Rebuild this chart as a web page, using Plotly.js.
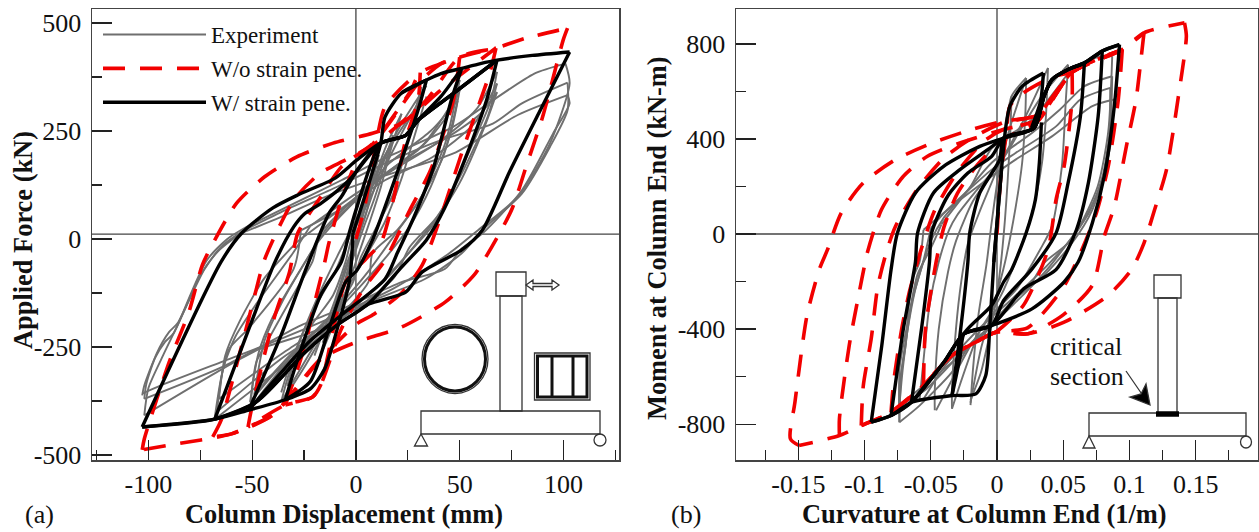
<!DOCTYPE html>
<html><head><meta charset="utf-8">
<script src="https://cdn.plot.ly/plotly-3.0.1.min.js"></script>
<style>html,body{margin:0;padding:0;background:#fff}#c{width:1259px;height:532px}</style>
</head><body><div id="c"></div>
<script>
// ---------- Panel (a): displacement (mm) vs force (kN). null separates branches.
const expAX=[-103,-102,-97,-92,-88,-75,-66,-55.5,null,
-55.5,-36,-11,12,47,78,102,null, 102,103,95,80,61,51,43,22,-3,-26.5,-63,-102,null,
-102,-101,-96,-90,-86,-73,-64,-54,null,
-54,-34,-9,14,41,66,80,102,null, 102,102,93.5,80,61,51,33.5,6.4,-21,-46,-67,-102,null,
-102,-100,-93,-86,-72,-62,-52,null,
-52,-30,-7,12,47,66,86,101,null, 101,103,93.5,78,59,45,18,-13,-44,-65,-94,-103,null,
-68,-65,-61,-52,-30,-26.5,null, -26.5,-5,14,37,57,68,null,
68,63.5,51,39,26,18,-9,-36,-67,null,
-67,-64,-58,-48,-30,-22,null, -22,0,18,40,58,68,null,
68,65,53,42,30,16,-7,-34,-66,null,
-66,-63,-56,-44,-28,null, -28,-3,20,44,60,68,null,
68,62,50,36,24,10,-12,-38,-68,null,
-51,-48,-42,-28.5,-21,-17,-1.4,12,31.5,47,50,null,
50,43,31.5,20,8,6,-11,-28.5,-51,null,
-51,-47,-40,-26,-18,-3,14,34,46,50,null,
50,46,36,26,14,2,-14,-32,-49,null,
-49,-44,-36,-24,-14,2,16,36,49,null,
49,42,30,18,6,-10,-30,-50,null,
-36,-32,-22.6,-11,-5,-1.4,6.4,14,22,29.6,31.5,null,
31.5,24,18,10,2.5,-1.4,-11,-21,-36,null,
-36,-31,-21,-10,-3,4,12,20,27,34,null,
34,28,22,14,6,-3,-14,-24,-34,null,
-33,-28,-18,-9,-2,6,13,24,32,null,
-20,-15,-10,-5,0,5,10,15,22,null, 22,17,12,7,2,-3,-8,-14,-20,null,
-16,-12,-8,-3,2,7,12,18,null, 18,14,9,4,0,-5,-10,-16,null,
-11,-8,-5,-1,3,7,11,null, 11,8,5,1,-2,-6,-11];
const expAY=[-362,-339,-277,-238,-219,-84,-26,13,null,
13,51,105,144,198,287,333,null, 333,314,244,113,13,-22,-69,-100,-154,-200,-293,-370,null,
-370,-335,-265,-215,-195,-70,-14,20,null,
20,67,121,175,229,267,314,362,null, 362,298,213,105,21,-33,-92,-146,-215,-254,-308,-408,null,
-408,-345,-270,-200,-50,0,30,null,
30,82,136,183,260,321,383,406,null, 406,360,221,98,21,-33,-115,-184,-246,-285,-339,-358,null,
-412,-323,-254,-208,-69,20,null, 20,75,136,190,267,360,null,
360,283,152,51,-18,-92,-192,-277,-400,null,
-400,-300,-225,-150,-30,30,null, 30,105,160,225,300,387,null,
387,320,185,70,-5,-85,-175,-260,-370,null,
-370,-270,-190,-90,-5,null, -5,85,170,235,290,340,null,
340,260,130,25,-40,-110,-205,-305,-417,null,
-396,-285,-231,-115,-53,13,90,144,213,322,368,null,
368,221,98,21,-33,-100,-192,-254,-377,null,
-377,-265,-180,-65,-5,75,150,225,300,345,null,
345,250,120,30,-45,-110,-190,-270,-360,null,
-360,-235,-150,-50,25,100,175,250,320,null,
320,190,85,5,-75,-165,-265,-385,null,
-377,-308,-208,-130,-53,13,90,167,244,314,352,null,
352,206,105,28,-41,-100,-177,-254,-377,null,
-355,-280,-170,-75,5,75,170,250,305,355,null,
330,235,140,40,-30,-105,-205,-290,-365,null,
-340,-250,-130,-40,25,100,185,270,325,null,
-270,-205,-140,-65,0,80,155,220,290,null, 290,210,120,45,-25,-95,-165,-235,-300,null,
-240,-180,-120,-45,20,90,160,240,null, 240,170,95,30,-25,-95,-165,-255,null,
-190,-145,-90,-20,50,120,195,null, 195,130,60,0,-50,-110,-190];

const redAX=[0,4,10,14,26,31,null,
31,30,24,18,12,5,-5,-17,-21,-34,null,
-34,-24.5,-19,-15,-13,-7,1,9,26,31,41,50,null,
50,47,36,26,14,3,-7,-17,-21,-34,-52,null,
-52,-50.6,-40,-32,-28,-17,-7,9,30,41,50,67.5,null,
67.5,64.5,51,41.5,32,22,8,0.5,-17,-40,-52,-60,-69,null,
-69,-65,-55.5,-48,-44,-30,-17,-5,9,34,50,67.5,82,102,null,
102,100,90,82,75,65.5,57,43,22,0.5,-17,-40,-60,-90,-103,null,
-103,-102,-90,-80.5,-74,-68,-57.5,-44,-28.5,-11,8,22,41,67.5];
const redAY=[0,70,229,306,368,385,null,
385,322,230,90,-9,-45,-100,-338,-366,-384,null,
-384,-245,-130,-53,-9,90,185,225,340,385,406,421,null,
421,322,160,67,-49,-120,-208,-338,-366,-384,-435,null,
-435,-400,-192,-76,14,97,167,225,360,406,421,442,null,
442,384,199,60,-60,-125,-176,-196,-278,-407,-435,-451,-458,null,
-458,-420,-255,-116,-47,90,153,183,220,322,421,442,465,488,null,
488,462,283,167,67,-18,-83,-146,-204,-238,-278,-407,-451,-477,-488,null,
-488,-463,-285,-169,-60,-2,83,144,190,222,245,268,345,442];

const simAX=[-1.4,12,14,22,34,null,
22,34,41,51,60,68,85,103,null,
34,30,22,14,8,0.5,-5,-13,-22,-34,null,
-34,-29,-17,-7,-3.3,1.5,8,12,24,30,41,51,null,
51,46,37.5,28,20,14,-7,-22.5,-51.6,null,
-51.6,-36,-24.6,-13,-7,0.6,12,24,30,47,68,null,
68,63,53,43,34,22,6,-9,-24.5,-48,-68,null,
-68,-51.6,-39,-30,-24.6,-17,-3.3,12,24,30,47,68,null,
103,88,74,61,51,32,24,6.5,0.5,-9,-24.5,-48,-68,-103,null,
-103,-65,-55,-40,-28,-10,0.5,12,24,30,47,68,null,
-103,-68,-51.6,-34,-22,-15,-9,-3,-1.4];
const simAY=[14,222,282,338,368,null,
338,368,383,395,406,414,425,433,null,
368,299,183,74,-2,-72,-100,-208,-330,-372,null,
-372,-292,-130,-53,13,90,183,222,240,275,330,395,null,
395,322,167,51,-32,-93,-176,-238,-396,null,
-396,-222,-76,59,98,160,222,240,275,337,414,null,
414,322,190,74,-2,-65,-150,-199,-262,-377,-417,null,
-417,-208,-53,28,59,82,136,222,240,275,337,414,null,
433,290,155,21,-25,-76,-123,-150,-169,-199,-262,-377,-417,-435,null,
-435,-53,14,72,102,141,183,222,240,275,337,414,null,
-435,-417,-396,-372,-347,-300,-208,-93,14];

// ---------- Panel (b): curvature (1/m) vs moment (kN-m)
const expBX=[-.0737,-.0737,-.069,-.0646,-.0585,-.0555,null,
-.0555,-.034,-.004,.014,.0415,.072,.0886,null,
.0886,.0855,.078,.066,.0537,.0355,.0264,.014,-.004,-.019,-.034,-.0585,-.0737,null,
-.0737,-.0725,-.068,-.062,-.055,-.05,null,
-.05,-.04,-.004,.014,.0446,.063,.0855,null,
.0855,.085,.08,.07,.055,.04,.02,.006,-.01,-.03,-.055,-.0737,null,
-.0737,-.0735,-.067,-.06,-.05,-.042,null,
-.042,-.004,.0264,.0476,.066,.087,null,
.087,.084,.072,.0567,.0355,.011,-.01,-.034,-.0646,-.0737,null,
-.0737,-.071,-.064,-.05,-.04,-.02,-.004,.0264,.0446,.0567,.078,.087,null,
.087,.084,.076,.06,.04,.012,-.012,-.04,-.056,null,
-.0585,-.056,-.051,-.044,-.036,-.03,-.016,.005,.02,.035,.0537,null,
.0537,.052,.049,.0415,.0325,.015,-.004,-.02,-.046,null,
-.047,-.047,-.044,-.037,-.031,-.018,.002,.022,.0385,null,
.0385,.037,.034,.027,.015,.002,-.014,-.034,null,
-.034,-.034,-.031,-.027,-.022,-.012,.002,.011,.022,null,
.022,.0215,.019,.014,.006,-.002,-.012,-.02,null,
-.02,-.018,-.014,-.008,-.004,.001,.006,.011,.022,null,
.011,.01,.008,.006,.003,-.001,-.007,-.012,-.02];
const expBY=[-792,-637,-469,-202,-118,18,null,
18,117,243,313,411,538,566,null,
566,369,201,60,-38,-122,-202,-272,-385,-455,-581,-722,-792,null,
-792,-600,-420,-240,-100,25,null,
25,88,271,341,453,566,615,null,
615,430,250,95,-25,-135,-255,-330,-420,-520,-660,-722,null,
-722,-560,-360,-170,-60,40,null,
40,300,425,524,622,664,null,
664,327,102,-38,-174,-286,-413,-539,-680,-722,null,
-722,-560,-280,-30,70,200,360,482,608,692,748,748,null,
748,430,200,10,-120,-270,-390,-560,-700,null,
-700,-560,-300,-118,20,80,180,320,460,590,713,null,
713,566,285,32,-66,-230,-340,-470,-742,null,
-742,-660,-400,-160,-30,140,300,500,699,null,
699,500,300,100,-100,-270,-420,-735,null,
-735,-660,-400,-200,-40,110,300,470,657,null,
657,520,300,110,-120,-290,-480,-710,null,
-720,-560,-340,-130,50,250,420,580,657,null,
580,420,220,60,-120,-290,-460,-580,-700];

const redBX=[0,.003,.007,.0097,.02,.0415,.0567,null,
.0567,.0567,.0507,.0446,.0385,.02,-.001,-.016,-.034,-.0555,null,
-.0555,-.054,-.046,-.04,-.03,-.015,.005,.03,.0567,.0946,null,
.0946,.0916,.084,.075,.063,.05,.023,-.001,-.016,-.034,-.0555,-.08,null,
-.08,-.078,-.072,-.066,-.057,-.047,-.03,-.01,.005,.03,.0567,.0946,.111,null,
.111,.108,.105,.0977,.0886,.081,.072,.05,.0234,-.001,-.016,-.034,-.0555,-.08,-.1025,null,
-.1025,-.101,-.095,-.09,-.083,-.0767,-.06,-.04,-.02,.005,.03,.0567,.0946,.111,.1416,null,
.1416,.143,.137,.128,.119,.111,.102,.084,.0507,.0234,-.001,-.016,-.034,-.0555,-.08,-.1025,-.119,-.1495,null,
-.119,-.119,-.1116,-.104,-.0995,-.098,-.0873,-.0707,-.0525,-.028,.005,.03,.0567,.0946,null,
-.1495,-.156,-.1526,-.1435,-.134,-.128,-.1177,-.101,-.0767,-.049,-.019,.005,.03,.0567,.0946];
const redBY=[0,250,420,538,594,660,680,null,
680,566,285,145,-66,-300,-413,-455,-511,-637,null,
-637,-399,-118,30,170,290,400,470,680,776,null,
776,566,285,88,-80,-225,-395,-413,-455,-511,-637,-750,null,
-750,-620,-400,-240,-60,100,260,390,440,480,680,776,847,null,
847,700,566,369,116,-10,-216,-340,-420,-413,-455,-511,-637,-750,-806,null,
-806,-640,-441,-220,-66,32,190,320,400,470,500,680,776,847,889,null,
889,833,580,271,102,-38,-146,-258,-371,-420,-413,-455,-511,-637,-750,-806,-848,-890,null,
-848,-778,-469,-244,-118,-80,102,243,327,383,440,480,680,776,null,
-890,-862,-708,-343,-146,-66,88,215,313,383,440,475,500,680,776];

const simBX=[-.0024,.0036,.0067,.0097,.019,.035,null,
.035,.033,.026,null,
.0335,.032,.029,.022,.011,.005,-.004,-.025,-.028,-.034,null,
-.034,-.028,-.022,-.0206,-.013,.002,.005,.028,.0355,.0415,.0537,.066,null,
.066,.063,.0537,.0446,.026,.005,-.004,-.025,-.04,-.0646,null,
-.0646,-.057,-.051,-.0494,-.0373,-.022,-.004,.005,.028,.0355,.0415,.0537,.066,.0795,null,
.0795,.0764,.069,.06,.0446,.0203,-.004,-.025,-.04,-.0646,-.08,null,
-.08,-.0707,-.0616,-.06,-.048,-.028,-.007,.005,.028,.0355,.0415,.0537,.066,.0795,.0925,null,
.0925,.0886,.081,.072,.0613,.0507,.0264,-.004,-.025,-.04,-.0646,-.08,-.095,null,
-.095,-.087,-.08,-.0752,-.0616,-.0403,-.013,.005,.028,.0355,.0415,.0537,.066,.0795,.0925,null,
-.095,-.08,-.0646,-.034,-.016,-.0085,-.0055,-.0024,.0036];
const simBY=[-118,285,453,538,622,678,null,
678,560,446,null,
470,300,145,4,-150,-202,-300,-420,-520,-680,null,
-680,-427,-118,4,173,313,404,446,580,650,692,720,null,
720,496,215,4,-150,-280,-385,-420,-539,-708,null,
-708,-399,-118,4,159,257,327,404,446,580,650,692,720,770,null,
770,496,215,18,-150,-230,-385,-420,-539,-708,-764,null,
-764,-399,-118,4,173,271,355,404,446,580,650,692,720,770,797,null,
797,538,243,46,-118,-202,-315,-385,-420,-539,-708,-764,-792,null,
-792,-469,-150,4,173,285,369,404,446,580,650,692,720,770,797,null,
-792,-764,-708,-680,-673,-595,-399,-118,285];

// ---------- Axis tick definitions
const xTicksA=[-100,-50,0,50,100], xTextA=['-100','-50','0','50','100'], xMinorA=[-125,-75,-25,25,75,125];
const yTicksA=[500,250,0,-250,-500], yTextA=['500','250','0','-250','-500'], yMinorA=[375,125,-125,-375];
const xTicksB=[-.15,-.1,-.05,0,.05,.1,.15], xTextB=['-0.15','-0.1','-0.05','0','0.05','0.1','0.15'];
const xMinorB=[-.175,-.125,-.075,-.025,.025,.075,.125,.175];
const yTicksB=[800,400,0,-400,-800], yTextB=['800','400','0','-400','-800'], yMinorB=[600,200,-200,-600];

const W=1259,H=532, SERIF='"Liberation Serif", serif';
const px=v=>v/W, py=v=>1-v/H;
const GREY='#6f6f6f', RED='#f20000', BLK='#000';
const lineG={color:GREY,width:1.9,shape:'spline',smoothing:.7};
const lineR={color:RED,width:3.6,dash:'22px,15px',shape:'spline',smoothing:.7};
const lineK={color:BLK,width:3.4,shape:'spline',smoothing:.7};
const tr=(x,y,line,name,xa,ya,show)=>({type:'scatter',mode:'lines',x,y,line,name,xaxis:xa,yaxis:ya,connectgaps:false,
  showlegend:show,legendgroup:name,hoverinfo:'skip'});
const data=[
 tr(expAX,expAY,lineG,'Experiment','x','y',true),
 tr(redAX,redAY,lineR,'W/o strain pene.','x','y',true),
 tr(simAX,simAY,lineK,'W/ strain pene.','x','y',true),
 tr(expBX,expBY,lineG,'Experiment','x2','y2',false),
 tr(redBX,redBY,lineR,'W/o strain pene.','x2','y2',false),
 tr(simBX,simBY,lineK,'W/ strain pene.','x2','y2',false)
];
const axis=(dom,range,vals,text,minor,anchor,lab)=>({domain:dom,range,anchor,tickmode:'array',tickvals:vals,ticktext:text,
  ticks:'inside',ticklen:20,tickwidth:1.2,tickcolor:'#222',ticklabelstandoff:lab,
  minor:{tickmode:'array',tickvals:minor,ticks:'inside',ticklen:10,tickwidth:1.2,tickcolor:'#222'},
  showgrid:false,zeroline:false,showline:true,linecolor:'#444',linewidth:1.5,mirror:true,
  tickfont:{family:SERIF,size:26,color:'#111'},automargin:false});

const S=[];
const ln={color:'#333',width:1.3};
const rect=(x0,y0,x1,y1,l=ln)=>S.push({type:'rect',xref:'paper',yref:'paper',x0:px(x0),x1:px(x1),y0:py(y0),y1:py(y1),line:l});
const seg=(x0,y0,x1,y1,l=ln)=>S.push({type:'line',xref:'paper',yref:'paper',x0:px(x0),x1:px(x1),y0:py(y0),y1:py(y1),line:l});
const circ=(cx,cy,rx,ry,l=ln)=>S.push({type:'circle',xref:'paper',yref:'paper',x0:px(cx-rx),x1:px(cx+rx),y0:py(cy-ry),y1:py(cy+ry),line:l});
const poly=(pts,fill)=>S.push({type:'path',xref:'paper',yref:'paper',line:ln,fillcolor:fill||'rgba(0,0,0,0)',
  path:'M'+pts.map(p=>px(p[0])+','+py(p[1])).join(' L')+' Z'});
const cross=(xr,yr,y0)=>{
 S.push({type:'line',xref:xr+' domain',x0:0,x1:1,yref:yr,y0:y0,y1:y0,line:{color:'#444',width:1.3},layer:'below'});
 S.push({type:'line',xref:xr,x0:0,x1:0,yref:yr+' domain',y0:0,y1:1,line:{color:'#444',width:1.3},layer:'below'});
};
cross('x','y',11.5); cross('x2','y2',0);
rect(496,272,526,296); rect(500,296,522,411); rect(421,411,600,434);
poly([[421,434],[414.5,446],[427.5,446]]); circ(600,440,6,6);
poly([[526,285],[533,280],[533,283.5],[552,283.5],[552,280],[559,285],[552,290],[552,286.5],[533,286.5],[533,290]]);
circ(455,359,33,34.5); circ(455,359,30.5,32,{color:'#111',width:3});
rect(534.5,353,590,400); rect(537.5,356,587,397,{color:'#111',width:3});
seg(552,356,552,397,{color:'#111',width:3}); seg(573,356,573,397,{color:'#111',width:3});
rect(1154,275,1181,298); rect(1158,298,1177,413); rect(1089,413,1246,436);
poly([[1089,436],[1083,448],[1095,448]]); circ(1246,442,5.5,6);
seg(1156,414,1179,414,{color:'#000',width:5.5});
seg(1126,371,1148,403); poly([[1150,405],[1130,397],[1141,394],[1146,384]],'#000');

const txt=(t,x,y)=>({text:t,xref:'paper',yref:'paper',x:px(x),y:py(y),showarrow:false,xanchor:'left',yanchor:'middle',
  font:{family:SERIF,size:26,color:'#111'}});
const ttl=(t,x,y,angle)=>({text:'<b>'+t+'</b>',xref:'paper',yref:'paper',x:px(x),y:py(y),showarrow:false,xanchor:'center',yanchor:'middle',
  textangle:angle,font:{family:SERIF,size:26.4,color:'#111'}});

const layout={width:W,height:H,margin:{l:0,r:0,t:0,b:0},paper_bgcolor:'#fff',plot_bgcolor:'rgba(0,0,0,0)',
 showlegend:true,
 legend:{x:px(98),y:py(13),xanchor:'left',yanchor:'top',bgcolor:'rgba(0,0,0,0)',borderwidth:0,itemwidth:103,
   traceorder:'grouped',tracegroupgap:1,font:{family:SERIF,size:23,color:'#111'},itemclick:false},
 xaxis:axis([px(92),px(619)],[-127.2,126.8],xTicksA,xTextA,xMinorA,'y',0),
 yaxis:axis([py(460),py(9)],[-511.5,532.4],yTicksA,yTextA,yMinorA,'x',4),
 xaxis2:axis([px(736),px(1258)],[-.1971,.1971],xTicksB,xTextB,xMinorB,'y2',0),
 yaxis2:axis([py(460),py(9)],[-951,947],yTicksB,yTextB,yMinorB,'x2',4),
 shapes:S,
 annotations:[txt('(a)',23,514),txt('(b)',669,514),txt('critical',1048,346),txt('section',1048,376),
  ttl('Column Displacement (mm)',344,514,0),ttl('Curvature at Column End (1/m)',984,514,0),
  ttl('Applied Force (kN)',23,240,-90),ttl('Moment at Column End (kN-m)',657,238,-90)]
};
Plotly.newPlot('c',data,layout,{displayModeBar:false,staticPlot:true});
</script></body></html>
